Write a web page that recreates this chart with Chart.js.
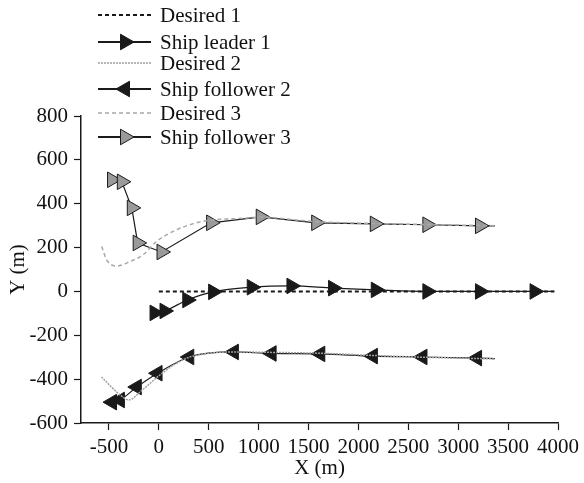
<!DOCTYPE html>
<html>
<head>
<meta charset="utf-8">
<script src="https://cdn.jsdelivr.net/npm/chart.js@4/dist/chart.umd.min.js"></script>
<style>
  body { margin: 0; background: #fff; }
</style>
</head>
<body>
<canvas id="myChart" width="584" height="483"></canvas>
<script>
// ---- data (X, Y in metres) ----
var desired1_x = [0, 3963];
var desired1_y = [0, 0];

var leader1_x = [-43, 57, 285, 544, 931, 1329, 1746, 2174, 2691, 3218, 3765, 3963];
var leader1_y = [-98, -89, -39, -2, 19, 25, 15, 7, 0, 0, 0, 0];

var desired2_x = [-575, -380, -300, -180, 0, 150, 305, 752, 1130, 1618, 2145, 2642, 3189, 3367];
var desired2_y = [-390, -475, -495, -455, -385, -335, -300, -276, -278, -282, -292, -300, -306, -308];

var follower2_x = [-469, -390, -221, -13, 305, 752, 1130, 1618, 2145, 2642, 3189, 3367];
var follower2_y = [-505, -495, -436, -373, -299, -276, -283, -285, -295, -299, -304, -306];

var desired3_x = [-573, -523, -423, -291, -159, -26, 139, 338, 471, 670, 869, 1001, 1577, 2164, 2691, 3367];
var desired3_y = [205, 144, 116, 136, 167, 227, 273, 308, 322, 330, 334, 339, 318, 310, 305, 300];

var follower3_x = [-469, -371, -271, -212, 27, 524, 1021, 1577, 2164, 2691, 3218, 3367];
var follower3_y = [509, 500, 381, 221, 180, 313, 340, 313, 308, 304, 299, 299];

var xTicks = [-500, 0, 500, 1000, 1500, 2000, 2500, 3000, 3500, 4000];
var yTicks = [-600, -400, -200, 0, 200, 400, 600, 800];

var legendNames = ['Desired 1', 'Ship leader 1', 'Desired 2', 'Ship follower 2', 'Desired 3', 'Ship follower 3'];

var FONT = '"Liberation Serif", "Times New Roman", serif';
var BLACK = '#1a1a1a';
var GREY_FILL = '#9a9a9a';

function pts(xs, ys) {
  var out = [];
  for (var i = 0; i < xs.length; i++) out.push({x: xs[i], y: ys[i]});
  return out;
}

// markers everywhere except the final point, where the track just ends
function markerRadius(ctx) {
  return ctx.dataIndex === ctx.dataset.data.length - 1 ? 0 : 9;
}

var datasets = [
  {
    label: legendNames[0], data: pts(desired1_x, desired1_y),
    borderColor: BLACK, borderWidth: 2, borderDash: [4, 3], pointRadius: 0
  },
  {
    label: legendNames[1], data: pts(leader1_x, leader1_y),
    borderColor: BLACK, borderWidth: 1.2, cubicInterpolationMode: 'monotone',
    pointStyle: 'triangle', pointRotation: 90, pointRadius: markerRadius,
    pointBackgroundColor: BLACK, pointBorderColor: BLACK, pointBorderWidth: 1
  },
  {
    label: legendNames[2], data: pts(desired2_x, desired2_y),
    borderColor: '#a0a0a0', borderWidth: 1.5, borderDash: [2, 1],
    cubicInterpolationMode: 'monotone', pointRadius: 0
  },
  {
    label: legendNames[3], data: pts(follower2_x, follower2_y),
    borderColor: BLACK, borderWidth: 1.2, cubicInterpolationMode: 'monotone',
    pointStyle: 'triangle', pointRotation: -90, pointRadius: markerRadius,
    pointBackgroundColor: BLACK, pointBorderColor: BLACK, pointBorderWidth: 1
  },
  {
    label: legendNames[4], data: pts(desired3_x, desired3_y),
    borderColor: '#a8a8a8', borderWidth: 1.5, borderDash: [4, 3],
    cubicInterpolationMode: 'monotone', pointRadius: 0
  },
  {
    label: legendNames[5], data: pts(follower3_x, follower3_y),
    borderColor: BLACK, borderWidth: 1.2, tension: 0,
    pointStyle: 'triangle', pointRotation: 90, pointRadius: markerRadius,
    pointBackgroundColor: GREY_FILL, pointBorderColor: BLACK, pointBorderWidth: 1
  }
];

// legend drawn by hand: one column, line sample with marker in the middle
var legendRows = [15, 42, 63, 89, 113, 137];
var sideLegend = {
  id: 'sideLegend',
  afterDraw: function(chart) {
    var c = chart.ctx;
    c.save();
    for (var i = 0; i < datasets.length; i++) {
      var ds = datasets[i];
      var y = legendRows[i];
      c.beginPath();
      c.setLineDash(ds.borderDash || []);
      c.strokeStyle = ds.borderColor;
      c.lineWidth = ds.pointStyle ? 2 : ds.borderWidth;
      c.moveTo(98, y);
      c.lineTo(151, y);
      c.stroke();
      c.setLineDash([]);
      if (ds.pointStyle === 'triangle') {
        var r = 9, cx = 125;
        var rad = ds.pointRotation * Math.PI / 180;
        c.beginPath();
        for (var k = 0; k < 3; k++) {
          var a = rad + k * 2 * Math.PI / 3;
          var px = cx + Math.sin(a) * r, py = y - Math.cos(a) * r;
          if (k === 0) c.moveTo(px, py); else c.lineTo(px, py);
        }
        c.closePath();
        c.fillStyle = ds.pointBackgroundColor;
        c.fill();
        c.lineWidth = 1;
        c.strokeStyle = ds.pointBorderColor;
        c.stroke();
      }
      c.fillStyle = '#111';
      c.font = '21px ' + FONT;
      c.textBaseline = 'middle';
      c.fillText(ds.label, 160, y + 1);
    }
    c.restore();
  }
};

new Chart(document.getElementById('myChart'), {
  type: 'scatter',
  data: { datasets: datasets.map(function(d) { d.showLine = true; return d; }) },
  options: {
    responsive: false,
    animation: false,
    layout: { padding: { top: 116, right: 22, left: 0, bottom: 0 } },
    plugins: { legend: { display: false }, tooltip: { enabled: false } },
    scales: {
      x: {
        type: 'linear', min: -780, max: 4000,
        afterBuildTicks: function(s) { s.ticks = xTicks.map(function(v) { return {value: v}; }); },
        afterFit: function(s) { s.height = 60; },
        grid: { drawOnChartArea: false, drawTicks: true, tickLength: 7, tickColor: BLACK, tickWidth: 1.2 },
        border: { display: true, color: BLACK, width: 1.5 },
        ticks: {
          color: '#111', font: { family: FONT, size: 21 }, padding: 5, maxRotation: 0, autoSkip: false,
          callback: function(v) { return String(v); }
        },
        title: { display: true, text: 'X (m)', color: '#111', font: { family: FONT, size: 21 }, padding: { top: 0, bottom: 2 } }
      },
      y: {
        type: 'linear', min: -600, max: 800,
        afterBuildTicks: function(s) { s.ticks = yTicks.map(function(v) { return {value: v}; }); },
        afterFit: function(s) { s.width = 81; },
        grid: { drawOnChartArea: false, drawTicks: true, tickLength: 7, tickColor: BLACK, tickWidth: 1.2 },
        border: { display: true, color: BLACK, width: 1.5 },
        ticks: {
          color: '#111', font: { family: FONT, size: 21 }, padding: 6, autoSkip: false,
          callback: function(v) { return String(v); }
        },
        title: { display: true, text: 'Y (m)', color: '#111', font: { family: FONT, size: 21 }, padding: { top: 6, bottom: 0 } }
      }
    }
  },
  plugins: [sideLegend]
});
</script>
</body>
</html>
